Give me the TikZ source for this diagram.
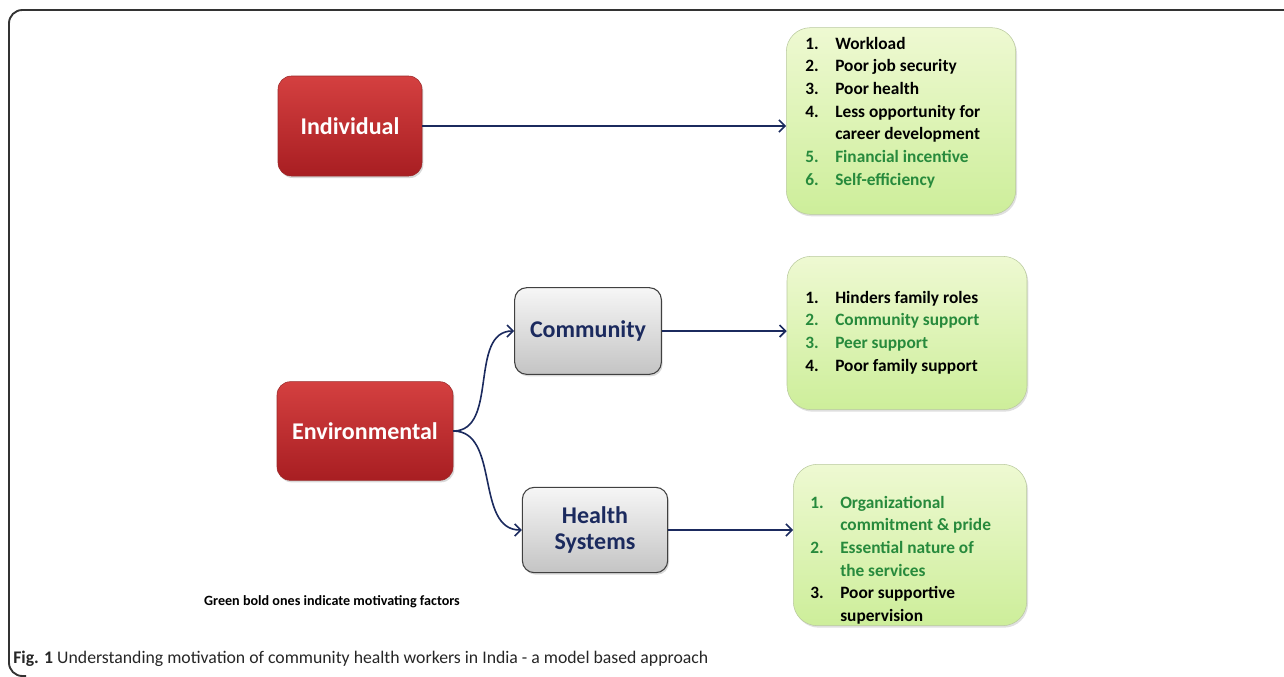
\documentclass[tikz,border=0pt]{standalone}
\usepackage{fontspec}
\setmainfont{Carlito}
\usepackage{xcolor}
\usetikzlibrary{arrows.meta,positioning,shadows}

\definecolor{navy}{HTML}{1B2A5E}
\definecolor{redTop}{HTML}{D44040}
\definecolor{redBot}{HTML}{A81E22}
\definecolor{redEdge}{HTML}{9A2A2A}
\definecolor{greyTop}{HTML}{F6F6F6}
\definecolor{greyBot}{HTML}{C4C4C4}
\definecolor{cardTop}{HTML}{EEF9D2}
\definecolor{cardBot}{HTML}{CDEE9A}
\definecolor{cardEdge}{HTML}{B9C99E}
\definecolor{motiv}{HTML}{278A3C}
\definecolor{frame}{HTML}{333333}

% a motivating (green) row of a list
\newcommand{\motive}[2]{\textcolor{motiv}{#1} & \textcolor{motiv}{#2}}

\begin{document}
\begin{tikzpicture}[x=0.75pt, y=-0.75pt,
  factor/.style={draw=redEdge, rounded corners=10pt, top color=redTop, bottom color=redBot,
    text=white, font=\bfseries\fontsize{18}{22}\selectfont,
    drop shadow={opacity=0.3, shadow xshift=1pt, shadow yshift=-1.5pt}},
  level/.style={draw=black!75, line width=0.8pt, rounded corners=9pt, top color=greyTop, bottom color=greyBot,
    text=navy, align=center, font=\bfseries\fontsize{18}{19.5}\selectfont,
    drop shadow={opacity=0.3, shadow xshift=1pt, shadow yshift=-1.5pt}},
  card/.style={draw=cardEdge, rounded corners=18pt, top color=cardTop, bottom color=cardBot,
    drop shadow={opacity=0.25, shadow xshift=1pt, shadow yshift=-1.5pt}},
  list/.style={inner sep=0pt, anchor=base west, font=\bfseries\fontsize{13}{17}\selectfont},
  link/.style={-{Straight Barb[length=4.5pt,width=9pt]}, line width=1.2pt, draw=navy}
]
\useasboundingbox (0,0) rectangle (1284,676);

% outer frame
\draw[frame, line width=1.4pt, rounded corners=10pt] (1290,10) -- (9,10) -- (9,676) -- (26,676);

% left-hand factors
\node[factor, minimum width=108pt, minimum height=75pt] (ind) at (350,126) {Individual};
\node[factor, minimum width=132pt, minimum height=74pt] (env) at (365,431) {Environmental};

% environmental levels
\node[level, minimum width=110pt, minimum height=65pt] (comm) at (588,331) {Community};
\node[level, minimum width=109pt, minimum height=64pt] (hs) at (595,530) {Health\\Systems};

% green cards
\node[card, minimum width=172pt, minimum height=140pt] (g1) at (901,121) {};
\node[card, minimum width=180pt, minimum height=115pt] (g2) at (907,333) {};
\node[card, minimum width=175pt, minimum height=121pt] (g3) at (910,545) {};

\node[list] (l1) at (805,49) {\begin{tabular}[t]{@{}p{22.5pt}@{}l@{}}
1. & Workload\\
2. & Poor job security\\
3. & Poor health\\
4. & Less opportunity for\\
   & career development\\
\motive{5.}{Financial incentive}\\
\motive{6.}{Self-efficiency}
\end{tabular}};

\node[list] (l2) at (805,303) {\begin{tabular}[t]{@{}p{22.5pt}@{}l@{}}
1. & Hinders family roles\\
\motive{2.}{Community support}\\
\motive{3.}{Peer support}\\
4. & Poor family support
\end{tabular}};

\node[list] (l3) at (810,508) {\begin{tabular}[t]{@{}p{22.5pt}@{}l@{}}
\motive{1.}{Organizational}\\
\motive{}{commitment \& pride}\\
\motive{2.}{Essential nature of}\\
\motive{}{the services}\\
3. & Poor supportive\\
   & supervision
\end{tabular}};

% connectors
\draw[link] (ind.east) -- (ind.east -| g1.west);
\draw[link] (env.east) to[out=0, in=180] (comm.west);
\draw[link] (env.east) to[out=0, in=180] (hs.west);
\draw[link] (comm.east) -- (comm.east -| g2.west);
\draw[link] (hs.east) -- (hs.east -| g3.west);

% note and caption
\node[font=\bfseries\fontsize{10.6}{12}\selectfont] (note) at (332,602) {Green bold ones indicate motivating factors};
\node[anchor=base west, inner sep=0pt, text=black!85, font=\fontsize{13.3}{16}\selectfont] (cap) at (13,663)
  {\textbf{Fig. 1} Understanding motivation of community health workers in India - a model based approach};
\end{tikzpicture}
\end{document}
